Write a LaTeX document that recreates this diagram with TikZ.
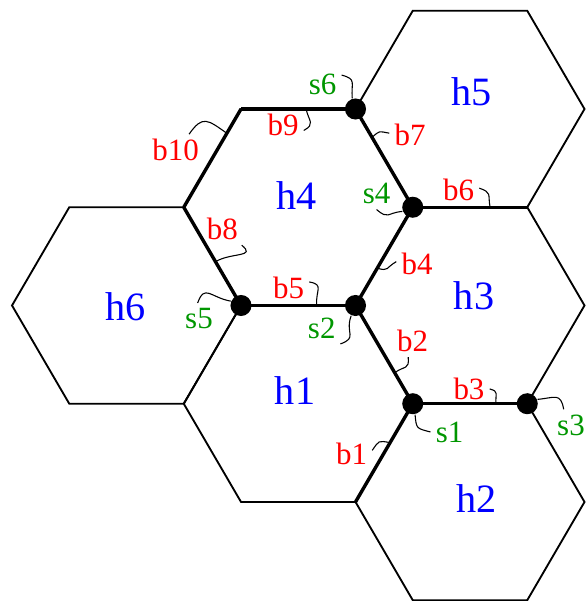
\documentclass[tikz,border=0pt]{standalone}
\usepackage{fontspec}
\setmainfont{Liberation Serif}
\definecolor{sgreen}{RGB}{0,150,0}

\begin{document}
\begin{tikzpicture}[x=1.3cm,y=1.3cm,
    hexline/.style={line width=0.6pt},
    bedge/.style={line width=1.1pt},
    dot/.style={circle,fill=black,inner sep=0pt,minimum size=6.8pt},
    lead/.style={line width=0.35pt,looseness=1.6},
    blab/.style={red,inner sep=1.5pt,font=\fontsize{10}{12}\selectfont},
    slab/.style={sgreen,inner sep=1.5pt,font=\fontsize{10}{12}\selectfont},
    hlab/.style={blue,font=\fontsize{13}{15}\selectfont}]
  \useasboundingbox (-1.105,-2.581) rectangle (4.022,2.668);
  \def\hh{0.858}

  % cells
  \foreach \cx/\cy in {0/0, 1.5/-1, 1.5/1, 3/0, 3/2, 3/-2}
    \draw[hexline] (\cx-1,\cy*\hh) -- (\cx-0.5,\cy*\hh+\hh) -- (\cx+0.5,\cy*\hh+\hh)
      -- (\cx+1,\cy*\hh) -- (\cx+0.5,\cy*\hh-\hh) -- (\cx-0.5,\cy*\hh-\hh) -- cycle;

  \node[hlab] (h1) at (1.472,-0.741) {h1};
  \node[hlab] (h2) at (3.061,-1.690) {h2};
  \node[hlab] (h3) at (3.035,0.089) {h3};
  \node[hlab] (h4) at (1.487,0.962) {h4};
  \node[hlab] (h5) at (3.015,1.865) {h5};
  \node[hlab] (h6) at (-0.007,-0.013) {h6};

  % corners
  \coordinate (p1) at (2.5,-\hh);
  \coordinate (p2) at (2,0);
  \coordinate (p3) at (3.5,-\hh);
  \coordinate (p4) at (2.5,\hh);
  \coordinate (p5) at (1,0);
  \coordinate (p6) at (2,2*\hh);
  \coordinate (q1) at (2,-2*\hh);
  \coordinate (q2) at (3.5,\hh);
  \coordinate (q3) at (0.5,\hh);
  \coordinate (q4) at (1,2*\hh);

  % borders
  \draw[bedge] (p1) -- coordinate[pos=0.396] (e1) (q1);
  \draw[bedge] (p2) -- coordinate[pos=0.684] (e2) (p1);
  \draw[bedge] (p1) -- coordinate[pos=0.727] (e3) (p3);
  \draw[bedge] (p2) -- coordinate[pos=0.379] (e4) (p4);
  \draw[bedge] (p5) -- coordinate[pos=0.661] (e5) (p2);
  \draw[bedge] (p4) -- coordinate[pos=0.675] (e6) (q2);
  \draw[bedge] (p6) -- coordinate[pos=0.288] (e7) (p4);
  \draw[bedge] (p5) -- coordinate[pos=0.446] (e8) (q3);
  \draw[bedge] (q4) -- coordinate[pos=0.568] (e9) (p6);
  \draw[bedge] (q3) -- coordinate[pos=0.753] (e10) (q4);

  \foreach \i in {1,...,6}
    \node[dot] (s\i) at (p\i) {};

  \node[blab] (b1) at (1.965,-1.297) {b1};
  \node[blab] (b2) at (2.498,-0.310) {b2};
  \node[blab] (b3) at (2.991,-0.729) {b3};
  \node[blab] (b4) at (2.537,0.367) {b4};
  \node[blab] (b5) at (1.415,0.157) {b5};
  \node[blab] (b6) at (2.900,1.009) {b6};
  \node[blab] (b7) at (2.476,1.489) {b7};
  \node[blab] (b8) at (0.838,0.668) {b8};
  \node[blab] (b9) at (1.367,1.577) {b9};
  \node[blab] (b10) at (0.428,1.355) {b10};

  \node[slab] (ls1) at (2.821,-1.105) {s1};
  \node[slab] (ls2) at (1.705,-0.199) {s2};
  \node[slab] (ls3) at (3.882,-1.044) {s3};
  \node[slab] (ls4) at (2.184,0.974) {s4};
  \node[slab] (ls5) at (0.633,-0.114) {s5};
  \node[slab] (ls6) at (1.712,1.935) {s6};

  % pins
  \draw[lead] (e1) to[out=170,in=55] (b1.10);
  \draw[lead] (e2) to[out=35,in=-85] (b2.-105);
  \draw[lead] (e3) to[out=95,in=-15] (b3.0);
  \draw[lead] (e4) to[out=-15,in=210] (b4.175);
  \draw[lead] (e5) to[out=95,in=-10] (b5.15);
  \draw[lead] (e6) to[out=100,in=-20] (b6.5);
  \draw[lead] (e7) to[out=40,in=170] (b7.175);
  \draw[lead] (e8) to[out=30,in=-40] (b8.-40);
  \draw[lead] (e9) to[out=-77,in=30] (b9.-15);
  \draw[lead] (e10) to[out=145,in=55] (b10.50);
  \draw[lead] (s1.-78) to[out=-85,in=165] (ls1.180);
  \draw[lead] (s2.-113) to[out=250,in=20] (ls2.-40);
  \draw[lead] (s3.23) to[out=5,in=100] (ls3.115);
  \draw[lead] (s4.202) to[out=185,in=-40] (ls4.-90);
  \draw[lead] (s5.157) to[out=170,in=70] (ls5.95);
  \draw[lead] (s6.107) to[out=95,in=-15] (ls6.25);
\end{tikzpicture}
\end{document}
